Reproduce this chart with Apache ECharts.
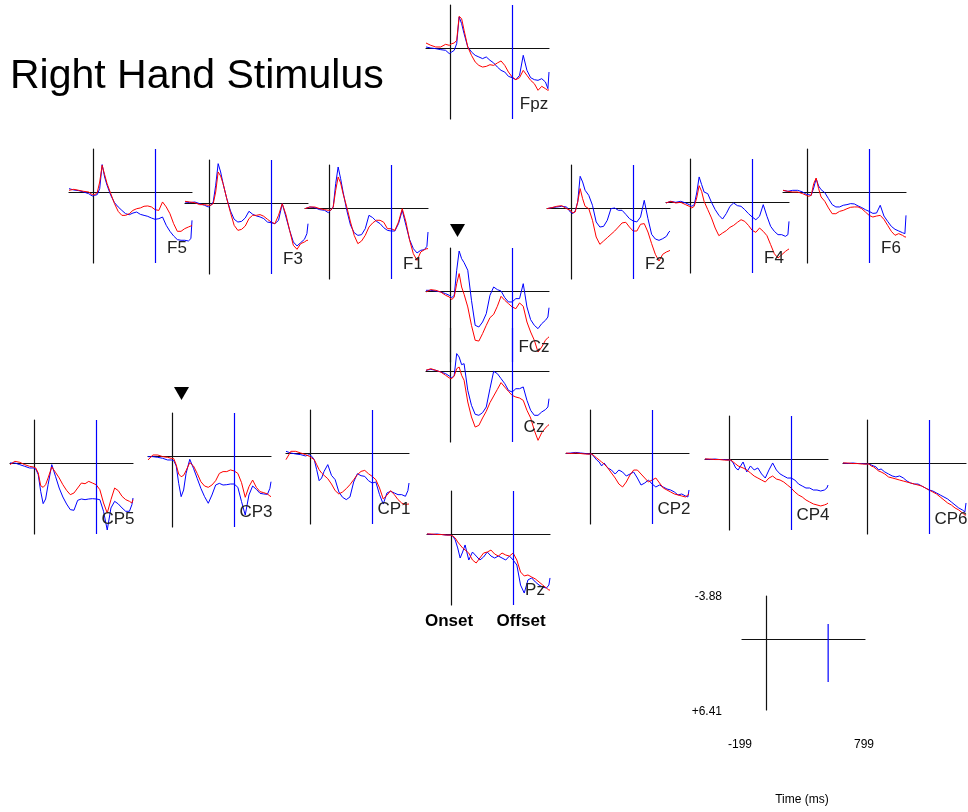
<!DOCTYPE html>
<html>
<head>
<meta charset="utf-8">
<script src="https://cdn.jsdelivr.net/npm/echarts@6/dist/echarts.min.js"></script>
<style>
html,body{margin:0;padding:0;background:#fff;}
#chart{width:968px;height:812px;}
</style>
</head>
<body>
<div id="chart"></div>
<script>
// ---- data ----
const T = [-199, -160, -120, -80, -40, -10, 10, 30, 50, 70, 90, 110, 140, 170, 200, 230, 260, 290, 320, 350, 380, 410, 440, 470, 500, 530, 560, 590, 620, 650, 680, 710, 740, 770, 790, 799];
const X_MIN = -199, X_MAX = 799, Y_MIN = -3.88, Y_MAX = 6.41, OFFSET_MS = 500;
const SCALE_BLUE = [-1.35, 3.88];

const FPZ_BLUE = [-0.09, 0, 0.06, 0.15, 0.21, 0.51, 0.36, 0.21, -0.39, -2.80, -2.20, -1.29, -0.09, 0.36, 0.66, 0.81, 0.96, 0.81, 1.11, 1.35, 1.72, 2.02, 2.17, 2.56, 2.68, 2.86, 2.47, 0.66, 2.02, 2.68, 2.86, 2.92, 2.77, 3.07, 3.67, 2.17];
const FPZ_RED = [-0.45, -0.24, -0.09, -0.09, -0.33, -0.24, -0.39, -0.45, -0.69, -2.86, -2.65, -1.60, -0.09, 0.66, 1.26, 1.57, 1.72, 1.66, 1.51, 1.57, 1.35, 1.17, 1.57, 2.17, 2.62, 2.86, 2.68, 2.02, 2.47, 2.92, 3.22, 3.82, 3.46, 3.67, 3.82, 3.76];
const F5_BLUE = [-0.30, -0.18, -0.12, 0, 0.15, 0.36, 0.30, 0.24, -0.30, -2.47, -1.35, -0.60, 0.30, 0.96, 1.35, 1.66, 1.96, 2.05, 1.90, 1.81, 2.02, 2.11, 2.20, 2.35, 2.47, 2.41, 2.26, 3.01, 3.55, 3.97, 4.30, 4.36, 4.36, 4.42, 4.21, 2.56];
const F5_RED = [-0.15, -0.24, -0.15, -0.06, 0, 0.24, 0.24, 0.06, -0.90, -2.41, -1.57, -0.75, 0.15, 1.05, 1.75, 2.11, 2.11, 1.96, 1.66, 1.51, 1.44, 1.29, 1.26, 1.35, 1.60, 1.66, 0.90, 1.35, 1.96, 2.86, 3.55, 3.55, 3.31, 3.16, 3.07, 3.01];
const F3_BLUE = [-0.09, -0.03, -0.09, 0.06, 0.21, 0.36, 0.21, -0.09, -1.60, -3.55, -2.80, -1.75, -0.39, 0.72, 1.47, 1.72, 1.66, 1.35, 0.75, 1.02, 1.17, 1.26, 1.41, 1.72, 1.78, 1.87, 1.57, 0.06, 1.26, 2.47, 3.52, 3.88, 3.58, 3.28, 2.77, 1.87];
const F3_RED = [-0.15, -0.09, -0.03, 0.15, 0.15, 0.21, 0.21, 0.06, -0.99, -2.80, -2.44, -1.75, -0.39, 0.87, 2.02, 2.47, 2.38, 2.08, 1.41, 1.11, 1.11, 1.05, 1.20, 1.47, 1.72, 1.87, 1.11, 0.06, 1.05, 2.47, 3.82, 4.18, 3.67, 3.52, 3.37, 3.37];
const F1_BLUE = [0.06, -0.09, -0.03, 0.15, 0.21, 0.42, 0.21, -0.09, -2.20, -3.70, -2.65, -1.44, 0.21, 1.54, 2.23, 2.47, 2.41, 1.87, 0.66, 0.87, 1.20, 1.41, 1.78, 2.02, 2.08, 2.08, 1.41, 0.21, 1.57, 2.86, 3.67, 4.06, 3.82, 3.76, 3.46, 2.17];
const F1_RED = [0.06, -0.09, -0.09, 0.06, 0.15, 0.21, 0.21, -0.09, -1.60, -2.80, -2.26, -1.29, -0.09, 1.26, 2.47, 3.22, 2.98, 2.47, 1.72, 1.35, 1.11, 1.11, 1.29, 1.87, 1.87, 2.02, 1.26, 0.06, 1.26, 2.92, 4.12, 4.73, 3.97, 3.76, 3.67, 3.67];
const F2_BLUE = [0.06, -0.03, -0.09, -0.15, -0.09, 0.36, 0.51, 0.27, -0.54, -2.86, -2.35, -1.60, -1.14, -0.24, 1.26, 1.72, 1.66, 1.11, 0.06, 0, 0.21, 0.21, 0.57, 0.96, 1.17, 1.26, 0.81, -0.69, 0.96, 2.38, 2.80, 2.92, 2.77, 2.56, 2.17, 2.08];
const F2_RED = [0.06, -0.03, -0.15, -0.21, 0.06, 0.21, 0.45, 0.36, -0.54, -1.75, -0.84, -0.15, 0.06, 1.11, 2.62, 3.28, 2.98, 2.68, 2.38, 2.08, 1.72, 1.35, 1.29, 1.72, 2.08, 2.08, 1.47, 1.41, 2.17, 3.22, 4.18, 4.79, 4.18, 3.97, 3.88, 3.82];
const F4_BLUE = [0.09, -0.06, 0.03, -0.06, 0.09, 0.24, 0.39, 0.24, -0.81, -2.26, -1.57, -0.90, -0.75, 0.03, 0.69, 1.20, 1.54, 1.05, 0.39, 0.09, 0.33, 0.39, 0.69, 1.05, 1.35, 1.60, 1.29, 0.24, 1.29, 2.20, 2.65, 2.95, 2.95, 3.10, 2.95, 1.75];
const F4_RED = [0.09, -0.06, 0.09, 0.03, 0.24, 0.39, 0.54, 0.39, -0.36, -1.47, -0.96, -0.06, 0.69, 1.44, 2.35, 3.04, 2.80, 2.59, 2.29, 2.11, 1.84, 1.60, 1.75, 2.11, 2.56, 2.74, 2.35, 2.65, 3.04, 3.85, 4.67, 5.06, 4.76, 4.46, 4.30, 4.24];
const F6_BLUE = [-0.15, -0.06, -0.15, -0.15, 0, 0.21, 0.24, 0.30, -0.36, -1.20, -0.54, -0.21, 0.06, 0.60, 1.14, 1.35, 1.35, 1.20, 1.14, 1.05, 1.08, 1.26, 1.41, 1.60, 1.75, 1.93, 1.90, 1.20, 2.17, 2.65, 3.10, 3.37, 3.52, 3.67, 3.76, 2.11];
const F6_RED = [-0.15, -0.06, 0, 0, 0.15, 0.30, 0.39, 0.30, -0.75, -1.26, -0.30, 0.45, 0.84, 1.44, 1.96, 1.96, 1.75, 1.66, 1.51, 1.38, 1.35, 1.35, 1.51, 1.81, 2.11, 2.26, 2.17, 2.11, 2.47, 3.01, 3.55, 3.91, 3.76, 3.91, 4.06, 4.06];
const FCZ_BLUE = [-0.06, -0.06, 0, 0.09, 0.24, 0.39, 0.60, 0.39, -1.87, -3.61, -2.92, -2.56, -1.87, 0.84, 3.10, 3.25, 2.80, 2.05, 0.39, -0.36, -0.12, 0, 0.60, 0.99, 0.99, 0.69, 0.69, -0.66, 1.44, 2.59, 3.10, 3.40, 2.95, 2.65, 2.35, 1.51];
const FCZ_RED = [0.09, -0.12, -0.06, 0.09, 0.39, 0.54, 0.78, 0.54, -0.66, -1.57, -0.36, 0.30, 1.44, 3.10, 4.45, 4.52, 3.85, 3.10, 2.41, 2.11, 1.38, 0.48, 0.84, 1.14, 1.44, 1.60, 1.08, 1.38, 2.80, 3.70, 4.45, 5.51, 5.06, 4.45, 4.21, 4.15];
const CZ_BLUE = [-0.06, -0.15, -0.06, 0.09, 0.24, 0.45, 0.63, 0.39, -1.57, -1.26, -0.57, -0.66, 1.75, 3.10, 3.91, 4.00, 3.76, 3.25, 1.60, 0.03, 0.24, 0.69, 1.14, 1.75, 1.90, 1.60, 1.60, 1.44, 2.65, 3.55, 4.00, 4.00, 3.70, 3.49, 3.25, 2.50];
const CZ_RED = [-0.06, -0.21, -0.06, 0.09, 0.39, 0.63, 0.69, 0.45, -0.21, -0.36, 0.39, 0.84, 2.80, 4.15, 5.06, 4.91, 4.24, 3.64, 2.86, 2.26, 1.66, 1.05, 1.45, 1.84, 2.20, 2.35, 2.44, 2.65, 3.55, 4.24, 5.36, 6.26, 5.57, 5.15, 4.91, 4.85];
const CP5_BLUE = [0, 0, 0.15, 0.30, 0.45, 0.45, 0.54, 1.05, 2.56, 3.67, 3.25, 1.96, 0.15, 1.20, 2.26, 3.07, 3.70, 4.21, 4.27, 3.37, 3.25, 3.31, 3.25, 3.22, 3.25, 3.31, 4.36, 6.05, 4.06, 3.46, 3.70, 4.06, 4.36, 4.36, 3.76, 3.16];
const CP5_RED = [0.15, -0.15, -0.06, 0.15, 0.30, 0.36, 0.45, 0.90, 2.05, 2.20, 1.96, 1.35, 0.36, 0.84, 1.35, 1.96, 2.47, 2.86, 2.71, 2.26, 1.81, 1.87, 1.66, 1.81, 1.96, 2.41, 3.61, 4.52, 3.31, 2.26, 2.50, 3.01, 3.31, 3.46, 3.61, 3.31];
const CP3_BLUE = [0.06, 0.06, 0.12, 0.21, 0.36, 0.36, 0.42, 0.90, 2.47, 3.67, 3.07, 1.57, 0.30, 1.11, 2.02, 2.92, 3.67, 4.27, 3.52, 2.62, 2.47, 2.62, 2.59, 2.53, 2.53, 2.83, 4.12, 5.33, 3.52, 2.71, 3.01, 3.37, 3.43, 3.46, 2.92, 2.32];
const CP3_RED = [0.36, -0.09, -0.09, 0.06, 0.12, 0.21, 0.24, 0.81, 1.63, 1.87, 1.75, 1.32, 0.60, 0.90, 1.57, 2.32, 2.71, 2.83, 2.62, 2.23, 1.57, 1.41, 1.41, 1.26, 1.35, 1.57, 2.41, 3.73, 2.77, 2.17, 2.83, 3.22, 3.31, 3.43, 3.61, 3.67];
const CP1_BLUE = [-0.15, 0, 0.09, 0.15, 0.27, 0.15, 0.30, 0.60, 1.51, 2.50, 2.26, 1.66, 1.05, 2.02, 2.41, 3.52, 4.00, 4.21, 3.97, 2.62, 1.87, 2.05, 2.11, 2.50, 2.71, 2.62, 3.76, 4.61, 3.61, 3.46, 3.61, 3.76, 3.76, 3.91, 3.40, 2.71];
const CP1_RED = [0.60, -0.15, -0.15, 0, 0.15, 0.30, 0.45, 0.60, 1.05, 1.51, 1.81, 2.02, 2.32, 2.80, 3.40, 3.70, 3.52, 3.22, 2.86, 2.41, 1.96, 1.66, 1.57, 1.87, 2.11, 2.41, 3.16, 4.15, 3.82, 3.40, 3.76, 4.21, 4.52, 4.67, 4.61, 4.61];
const CP2_BLUE = [0.05, 0, -0.05, 0, 0.05, 0.10, 0.09, 0.36, 0.63, 0.81, 1.17, 0.90, 1.35, 1.54, 1.90, 1.54, 1.72, 2.08, 1.90, 1.72, 2.26, 2.89, 2.71, 2.44, 2.80, 3.07, 2.89, 3.07, 3.25, 3.34, 3.52, 3.79, 3.70, 3.88, 3.97, 3.34];
const CP2_RED = [0, 0.05, 0, 0.05, 0.10, 0.10, 0.09, 0.27, 0.45, 0.63, 0.81, 0.99, 1.35, 1.81, 2.26, 2.80, 3.07, 2.62, 1.99, 1.54, 1.54, 1.90, 2.26, 2.62, 2.44, 2.26, 2.71, 3.16, 3.34, 3.52, 3.70, 3.79, 3.88, 3.97, 3.79, 3.70];
const CP4_BLUE = [0, 0.05, 0, 0.05, 0.05, 0.10, 0.09, 0.36, 0.81, 0.99, 0.63, 0.27, 1.17, 0.63, 0.99, 0.81, 1.35, 1.72, 0.99, 0.36, 0.99, 1.35, 1.54, 1.72, 1.72, 1.90, 2.26, 2.44, 2.62, 2.62, 2.80, 2.80, 2.89, 2.80, 2.62, 2.35];
const CP4_RED = [0, 0, 0.05, 0.05, 0.10, 0.10, 0.09, 0.27, 0.45, 0.63, 0.72, 0.81, 0.99, 1.26, 1.54, 1.72, 1.90, 2.08, 1.72, 1.54, 1.81, 1.90, 2.08, 2.35, 2.62, 2.98, 3.25, 3.43, 3.70, 3.88, 4.06, 4.15, 4.24, 4.15, 4.06, 3.97];
const CP6_BLUE = [0, 0.05, 0, 0.05, 0.05, 0.10, 0.09, 0.18, 0.27, 0.36, 0.63, 0.54, 0.81, 0.99, 1.17, 1.26, 1.17, 1.35, 1.63, 1.81, 1.90, 1.90, 2.08, 2.26, 2.44, 2.53, 2.71, 2.89, 3.07, 3.25, 3.52, 3.79, 4.06, 4.24, 4.42, 3.61];
const CP6_RED = [0, 0, 0.05, 0.05, 0.10, 0.10, 0.09, 0.27, 0.36, 0.54, 0.72, 0.81, 0.99, 1.26, 1.35, 1.44, 1.54, 1.63, 1.72, 1.81, 1.90, 1.99, 2.08, 2.26, 2.44, 2.62, 2.80, 3.07, 3.34, 3.61, 3.79, 4.06, 4.24, 4.51, 4.70, 4.70];
const PZ_BLUE = [0, 0.05, 0, 0.05, 0.10, 0.10, 0.18, 0.54, 1.26, 2.17, 1.63, 0.99, 2.35, 1.63, 1.99, 2.35, 2.08, 1.63, 1.99, 2.17, 1.99, 2.17, 2.35, 1.99, 2.35, 2.80, 4.61, 5.33, 4.15, 3.97, 4.33, 4.61, 4.79, 4.88, 4.61, 3.97];
const PZ_RED = [0, 0, 0.05, 0.05, 0.10, 0.10, 0.18, 0.36, 0.72, 0.99, 1.26, 1.44, 1.72, 2.35, 2.62, 2.17, 1.72, 1.63, 1.45, 1.81, 1.99, 1.72, 1.90, 1.99, 1.72, 2.35, 3.43, 3.79, 3.70, 3.88, 4.06, 4.33, 4.61, 4.88, 5.06, 5.06];

const CHANNELS = ['Fpz','F5','F3','F1','F2','F4','F6','FCz','Cz','CP5','CP3','CP1','CP2','CP4','CP6','Pz'];
const BLUE = [FPZ_BLUE,F5_BLUE,F3_BLUE,F1_BLUE,F2_BLUE,F4_BLUE,F6_BLUE,FCZ_BLUE,CZ_BLUE,CP5_BLUE,CP3_BLUE,CP1_BLUE,CP2_BLUE,CP4_BLUE,CP6_BLUE,PZ_BLUE];
const RED = [FPZ_RED,F5_RED,F3_RED,F1_RED,F2_RED,F4_RED,F6_RED,FCZ_RED,CZ_RED,CP5_RED,CP3_RED,CP1_RED,CP2_RED,CP4_RED,CP6_RED,PZ_RED];

// ---- layout (pixels) ----
const PW = 123, PH = 114;
const POS = [
  [426, 5], [69, 149], [185, 160], [305, 165], [547, 165], [666, 159], [783, 149],
  [426, 248], [426, 328],
  [10, 420], [148, 413], [286, 410], [566, 410], [705, 416], [843, 420],
  [427, 491]
];
const SCALE_POS = [742, 596];

const chart = echarts.init(document.getElementById('chart'), null, {renderer: 'canvas'});
const grids = [], xAxes = [], yAxes = [], series = [];
const axisLS = {color: '#111', width: 1.2};

function addPanel(i, left, top) {
  grids.push({left: left, top: top, width: PW, height: PH, containLabel: false});
  xAxes.push({type: 'value', gridIndex: i, min: X_MIN, max: X_MAX,
    axisLine: {show: true, onZero: true, lineStyle: axisLS},
    axisTick: {show: false}, axisLabel: {show: false}, splitLine: {show: false}});
  yAxes.push({type: 'value', gridIndex: i, min: Y_MIN, max: Y_MAX, inverse: true,
    axisLine: {show: true, onZero: true, lineStyle: axisLS},
    axisTick: {show: false}, axisLabel: {show: false}, splitLine: {show: false}});
}

const graphics = [];
CHANNELS.forEach((name, i) => {
  const [l, t] = POS[i];
  addPanel(i, l, t);
  series.push({
    type: 'line', xAxisIndex: i, yAxisIndex: i, showSymbol: false, silent: true,
    data: T.map((x, k) => [x, BLUE[i][k]]),
    lineStyle: {color: '#0000ff', width: 1}, z: 3,
    markLine: {silent: true, symbol: ['none', 'none'], label: {show: false},
      lineStyle: {color: '#0000ff', width: 1.2, type: 'solid'},
      data: [{xAxis: OFFSET_MS}]}
  });
  series.push({
    type: 'line', xAxisIndex: i, yAxisIndex: i, showSymbol: false, silent: true,
    data: T.map((x, k) => [x, RED[i][k]]),
    lineStyle: {color: '#ff0000', width: 1}, z: 4
  });
  graphics.push({type: 'text', x: l + 108, y: t + 99, z: 10,
    style: {text: name, font: '17px "Liberation Sans", Arial, sans-serif', fill: '#222',
      textAlign: 'center', textVerticalAlign: 'middle'}});
});

// scale panel
const si = CHANNELS.length;
addPanel(si, SCALE_POS[0], SCALE_POS[1]);
series.push({type: 'line', xAxisIndex: si, yAxisIndex: si, showSymbol: false, silent: true,
  data: SCALE_BLUE.map(v => [OFFSET_MS, v]), lineStyle: {color: '#0000ff', width: 1.2}});

const small = '12px "Liberation Sans", Arial, sans-serif';
graphics.push(
  {type: 'text', x: 10, y: 77, style: {text: 'Right Hand Stimulus', font: '41px "Liberation Sans", Arial, sans-serif', fill: '#000', textVerticalAlign: 'middle'}},
  {type: 'text', x: 449, y: 621, style: {text: 'Onset', font: 'bold 17px "Liberation Sans", Arial, sans-serif', fill: '#000', textAlign: 'center', textVerticalAlign: 'middle'}},
  {type: 'text', x: 521, y: 621, style: {text: 'Offset', font: 'bold 17px "Liberation Sans", Arial, sans-serif', fill: '#000', textAlign: 'center', textVerticalAlign: 'middle'}},
  {type: 'polygon', shape: {points: [[450, 224], [465, 224], [457.5, 237]]}, style: {fill: '#000'}},
  {type: 'polygon', shape: {points: [[174, 387], [189, 387], [181.5, 400]]}, style: {fill: '#000'}},
  {type: 'text', x: 722, y: 597, style: {text: '-3.88', font: small, fill: '#000', textAlign: 'right', textVerticalAlign: 'middle'}},
  {type: 'text', x: 722, y: 712, style: {text: '+6.41', font: small, fill: '#000', textAlign: 'right', textVerticalAlign: 'middle'}},
  {type: 'text', x: 740, y: 745, style: {text: '-199', font: small, fill: '#000', textAlign: 'center', textVerticalAlign: 'middle'}},
  {type: 'text', x: 864, y: 745, style: {text: '799', font: small, fill: '#000', textAlign: 'center', textVerticalAlign: 'middle'}},
  {type: 'text', x: 802, y: 800, style: {text: 'Time (ms)', font: small, fill: '#000', textAlign: 'center', textVerticalAlign: 'middle'}}
);

chart.setOption({
  animation: false,
  backgroundColor: '#fff',
  grid: grids, xAxis: xAxes, yAxis: yAxes, series: series,
  graphic: graphics
});
</script>
</body>
</html>
